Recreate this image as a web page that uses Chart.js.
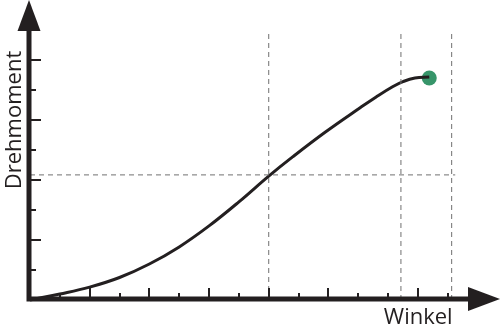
<!DOCTYPE html>
<html>
<head>
<meta charset="utf-8">
<script src="https://cdn.jsdelivr.net/npm/chart.js@4.4.1/dist/chart.umd.min.js"></script>
<style>
  html,body{margin:0;padding:0;background:#fff;}
  canvas{display:block;}
</style>
</head>
<body>
<canvas id="torque" width="500" height="331"></canvas>
<script>
// Kurve Drehmoment ueber Winkel
var winkel = [0, 1, 2, 3, 4, 5, 6, 7, 8, 8.8, 9.9, 11.05, 11.6, 12.15, 12.5, 12.9, 13.38];
var drehmoment = [0, 0.2, 0.43, 0.75, 1.2, 1.77, 2.47, 3.27, 4.13, 4.77, 5.6, 6.4, 6.77, 7.11, 7.28, 7.4, 7.43];
// Endpunkt
var punktX = [13.38];
var punktY = [7.4];
// Hilfslinien
var hilfX = [8, 12.43, 14.13];
var hilfXTop = 9;
var hilfY = 4.17;
var hilfYEnd = 14.25;
// Achsenteilung
var xTicks = [1,2,3,4,5,6,7,8,9,10,11,12,13,14];
var xTicksLang = [2,4,6,8,10,13];
var yTicks = [1,2,3,4,5,6,7,8];
var yTicksLang = [2,4,6,8];
var xMax = 15.75, yMax = 10;
var achseTitelX = 'Winkel';
var achseTitelY = 'Drehmoment';

var dunkel = '#231f20';
var grau = '#707070';

function toPoints(xs, ys){
	var pts = [];
	for(var i=0;i<xs.length;i++){
		pts.push({x:xs[i], y:ys[i]});
	}
	return pts;
}

var datasets = [];
// gestrichelte Linien
for(var i=0;i<hilfX.length;i++){
	datasets.push({
		data: toPoints([hilfX[i], hilfX[i]], [0, hilfXTop]),
		showLine: true, borderColor: grau, borderWidth: 1, borderDash: [5,4],
		pointRadius: 0, clip: false
	});
}
datasets.push({
	data: toPoints([0, hilfYEnd], [hilfY, hilfY]),
	showLine: true, borderColor: grau, borderWidth: 1, borderDash: [5,4],
	pointRadius: 0, clip: false
});
datasets.push({
	data: toPoints(winkel, drehmoment),
	showLine: true, borderColor: dunkel, borderWidth: 3,
	tension: 0.4, pointRadius: 0, clip: false
});
datasets.push({
	data: toPoints(punktX, punktY),
	showLine: false, pointRadius: 7.5, pointBackgroundColor: '#37956a',
	pointBorderWidth: 0, clip: false
});

// Achsen mit Pfeilen, Teilstriche und Titel
var achsenPlugin = {
	id: 'achsen',
	afterDatasetsDraw: function(chart){
		var ctx = chart.ctx;
		var sx = chart.scales.x, sy = chart.scales.y;
		var x0 = sx.getPixelForValue(0) - 1;
		var y0 = sy.getPixelForValue(0) - 1;
		var xEnd = sx.getPixelForValue(xMax);
		var yEnd = sy.getPixelForValue(yMax);
		ctx.save();
		ctx.strokeStyle = dunkel;
		ctx.fillStyle = dunkel;
		ctx.lineWidth = 5;
		ctx.beginPath();
		ctx.moveTo(x0, y0 + 2.5);
		ctx.lineTo(x0, yEnd + 25);
		ctx.moveTo(x0 - 2.5, y0);
		ctx.lineTo(xEnd - 25, y0);
		ctx.stroke();
		// Pfeilspitzen
		ctx.beginPath();
		ctx.moveTo(x0, yEnd);
		ctx.lineTo(x0 - 11.5, yEnd + 31);
		ctx.lineTo(x0 + 11.5, yEnd + 31);
		ctx.closePath();
		ctx.fill();
		ctx.beginPath();
		ctx.moveTo(xEnd, y0);
		ctx.lineTo(xEnd - 32, y0 - 12);
		ctx.lineTo(xEnd - 32, y0 + 12);
		ctx.closePath();
		ctx.fill();
		// Teilstriche
		ctx.lineWidth = 2;
		ctx.beginPath();
		for(var i=0;i<xTicks.length;i++){
			var px = Math.round(sx.getPixelForValue(xTicks[i]));
			var len = xTicksLang.indexOf(xTicks[i]) >= 0 ? 11 : 6;
			ctx.moveTo(px, y0);
			ctx.lineTo(px, y0 - len);
		}
		for(var j=0;j<yTicks.length;j++){
			var py = Math.round(sy.getPixelForValue(yTicks[j]));
			var len2 = yTicksLang.indexOf(yTicks[j]) >= 0 ? 12 : 7;
			ctx.moveTo(x0, py);
			ctx.lineTo(x0 + len2, py);
		}
		ctx.stroke();
		// Titel
		ctx.font = '22px "Open Sans"';
		ctx.textBaseline = 'alphabetic';
		ctx.textAlign = 'right';
		ctx.fillText(achseTitelX, sx.getPixelForValue(hilfX[2]) + 1, y0 + 25);
		ctx.translate(x0 - 8, sy.getPixelForValue(6));
		ctx.rotate(-Math.PI/2);
		ctx.textAlign = 'center';
		ctx.fillText(achseTitelY, 0, 0);
		ctx.restore();
	}
};

var chart = new Chart(document.getElementById('torque').getContext('2d'), {
	type: 'scatter',
	data: { datasets: datasets },
	options: {
		responsive: false,
		devicePixelRatio: 1,
		animation: false,
		layout: { autoPadding: false, padding: { left: 30, right: 0, top: 0, bottom: 31 } },
		plugins: { legend: { display: false }, tooltip: { enabled: false } },
		scales: {
			x: { type: 'linear', min: 0, max: xMax, display: false },
			y: { type: 'linear', min: 0, max: yMax, display: false }
		}
	},
	plugins: [achsenPlugin]
});
</script>
</body>
</html>
